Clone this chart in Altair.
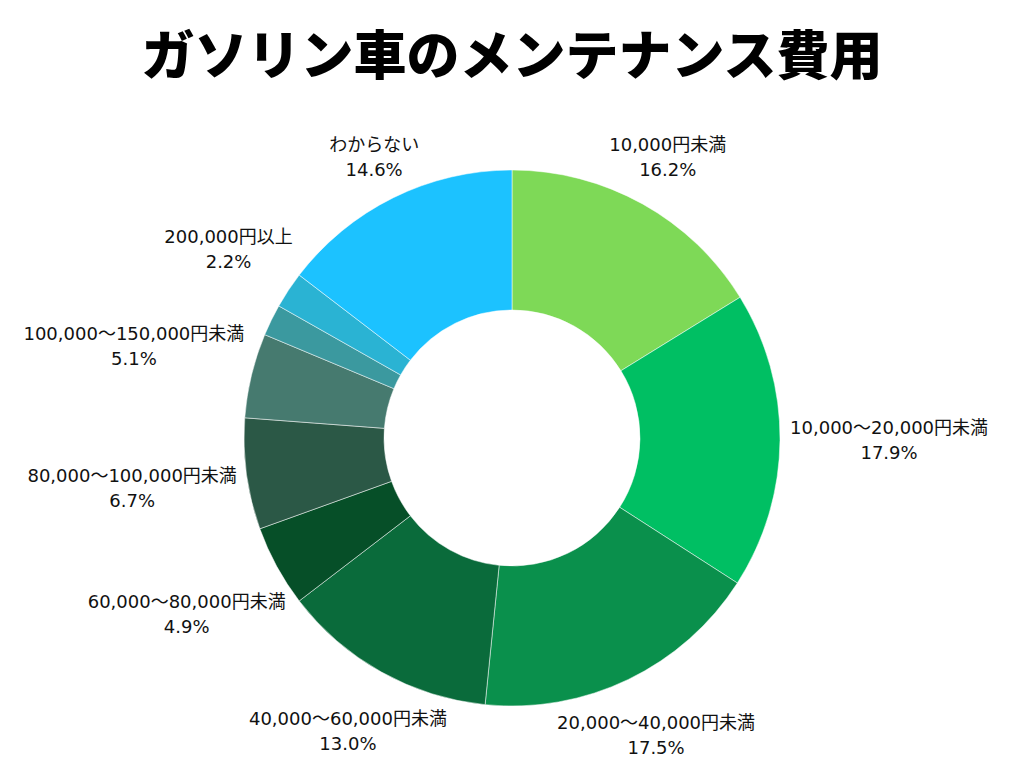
import math
import altair as alt
import pandas as pd

title_text = "ガソリン車のメンテナンス費用"
categories = [
    "10,000円未満",
    "10,000〜20,000円未満",
    "20,000〜40,000円未満",
    "40,000〜60,000円未満",
    "60,000〜80,000円未満",
    "80,000〜100,000円未満",
    "100,000〜150,000円未満",
    "150,000〜200,000円未満",
    "200,000円以上",
    "わからない",
]
values = [16.2, 17.9, 17.5, 13.0, 4.9, 6.7, 5.1, 1.9, 2.2, 14.6]
colors = [
    "#7ED957", "#00BF63", "#0A904C", "#0A6B3B", "#064F28",
    "#2B5846", "#467A6F", "#3B999F", "#2AB3D3", "#1CC2FF",
]
show_label = [True, True, True, True, True, True, True, False, True, True]

OUTER = 268
INNER = 128
FS = 18
LINE_H = 25


def text_width(s, fs=FS):
    w = 0.0
    for ch in s:
        if ch.isdigit():
            w += 0.636
        elif ch in ",.":
            w += 0.318
        elif ch == "%":
            w += 0.95
        else:
            w += 1.0
    return w * fs


total = sum(values)
rows = []
cum = 0.0
for i, (c, v, s) in enumerate(zip(categories, values, show_label)):
    mid = (cum + v / 2) / total * 2 * math.pi
    cum += v
    pct = f"{v:.1f}%"
    w = max(text_width(c), text_width(pct))
    vgap = 15 if math.cos(mid) > 0 else 12
    lr = OUTER + 10 + (w / 2) * abs(math.sin(mid)) + vgap * abs(math.cos(mid))
    rows.append({
        "idx": i,
        "category": c,
        "value": v,
        "label": f"{c}\n{pct}" if s else "",
        "mid": mid,
        "lr": lr,
    })

df = pd.DataFrame(rows)

arcs = alt.Chart(df).mark_arc(
    outerRadius=OUTER, innerRadius=INNER, stroke="#ffffff", strokeWidth=0.5
).encode(
    theta=alt.Theta("value:Q", stack=True),
    order=alt.Order("idx:Q"),
    color=alt.Color(
        "category:N",
        scale=alt.Scale(domain=categories, range=colors),
        legend=None,
    ),
)

labels = alt.Chart(df).mark_text(
    font="DejaVu Sans, Noto Sans CJK JP",
    fontSize=FS,
    lineBreak="\n",
    lineHeight=LINE_H,
    align="center",
    baseline="middle",
    dy=-LINE_H / 2,
    color="#111111",
).encode(
    theta=alt.Theta("mid:Q", scale=None),
    radius=alt.Radius("lr:Q", scale=None),
    text="label:N",
)

chart = (
    alt.layer(arcs, labels)
    .properties(
        width=1008,
        height=640,
        padding={"left": 0, "right": 0, "top": 110, "bottom": 0},
        autosize=alt.AutoSizeParams(type="none"),
        title=alt.TitleParams(
            title_text,
            font="Noto Sans CJK JP",
            fontSize=53,
            fontWeight=900,
            color="#000000",
            anchor="middle",
            baseline="middle",
            offset=6,
        ),
    )
    .configure_view(stroke=None)
)

chart.save("out.html", embed_options={"renderer": "svg", "actions": False})
